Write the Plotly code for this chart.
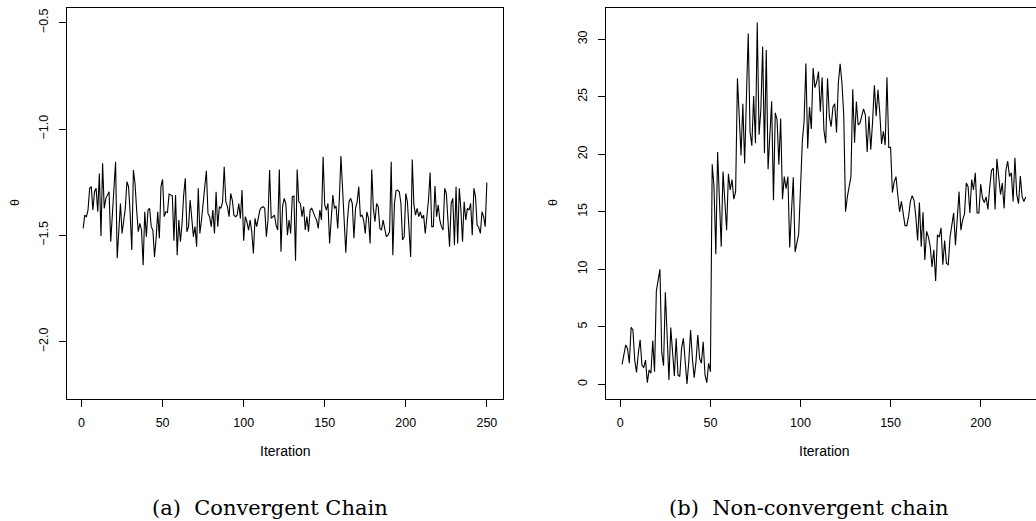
import plotly.graph_objects as go

W, H = 1036, 521

# ---- data ----
theta_a = [
    -1.467, -1.405, -1.412, -1.381, -1.279, -1.271, -1.381, -1.295, -1.279, -1.389,
    -1.209, -1.503, -1.161, -1.373, -1.326, -1.310, -1.295, -1.530, -1.412, -1.295,
    -1.154, -1.608, -1.459, -1.350, -1.491, -1.428, -1.373, -1.248, -1.271, -1.397,
    -1.569, -1.193, -1.256, -1.381, -1.483, -1.444, -1.475, -1.640, -1.389, -1.506,
    -1.381, -1.373, -1.459, -1.475, -1.601, -1.514, -1.389, -1.514, -1.271, -1.237,
    -1.412, -1.389, -1.392, -1.306, -1.310, -1.314, -1.525, -1.310, -1.593, -1.428,
    -1.530, -1.444, -1.310, -1.232, -1.483, -1.459, -1.334, -1.420, -1.506, -1.459,
    -1.553, -1.279, -1.491, -1.428, -1.357, -1.279, -1.196, -1.397, -1.412, -1.459,
    -1.381, -1.491, -1.295, -1.459, -1.365, -1.373, -1.342, -1.177, -1.342, -1.365,
    -1.412, -1.303, -1.334, -1.405, -1.412, -1.405, -1.350, -1.420, -1.287, -1.525,
    -1.412, -1.436, -1.475, -1.428, -1.483, -1.585, -1.420, -1.459, -1.412, -1.381,
    -1.369, -1.365, -1.373, -1.506, -1.428, -1.193, -1.420, -1.412, -1.405, -1.452,
    -1.475, -1.190, -1.577, -1.365, -1.326, -1.350, -1.499, -1.428, -1.491, -1.318,
    -1.315, -1.619, -1.190, -1.342, -1.350, -1.412, -1.365, -1.475, -1.412, -1.483,
    -1.381, -1.373, -1.397, -1.412, -1.428, -1.467, -1.381, -1.428, -1.130, -1.357,
    -1.381, -1.350, -1.538, -1.420, -1.310, -1.373, -1.362, -1.467, -1.334, -1.127,
    -1.303, -1.397, -1.582, -1.428, -1.342, -1.326, -1.350, -1.514, -1.373, -1.342,
    -1.271, -1.412, -1.405, -1.428, -1.491, -1.389, -1.420, -1.538, -1.190, -1.373,
    -1.436, -1.350, -1.365, -1.467, -1.475, -1.428, -1.475, -1.506, -1.499, -1.483,
    -1.154, -1.593, -1.350, -1.290, -1.287, -1.295, -1.350, -1.522, -1.506, -1.303,
    -1.342, -1.475, -1.601, -1.143, -1.357, -1.405, -1.373, -1.412, -1.389, -1.420,
    -1.405, -1.491, -1.420, -1.334, -1.205, -1.459, -1.459, -1.268, -1.412, -1.357,
    -1.428, -1.459, -1.475, -1.279, -1.303, -1.428, -1.553, -1.350, -1.326, -1.546,
    -1.271, -1.538, -1.279, -1.381, -1.530, -1.342, -1.428, -1.373, -1.381, -1.350,
    -1.499, -1.279, -1.318, -1.452, -1.463, -1.491, -1.389, -1.412, -1.459, -1.252,
]

theta_b = [
    1.74, 2.6, 3.42, 3.1, 1.83, 4.96, 4.72, 2.1, 1.04, 2.7,
    3.86, 1.68, 1.45, 2.1, 0.14, 1.25, 0.96, 3.8, 1.1, 8.1,
    9.0, 10.0, 2.75, 1.62, 8.0, 3.3, 0.38, 4.93, 3.0, 0.72,
    4.0, 0.81, 0.67, 3.13, 4.0, 1.68, 0.03, 1.97, 4.72, 2.26,
    0.58, 1.97, 4.29, 2.26, 1.83, 3.7, 0.81, 0.14, 1.83, 1.1,
    19.13, 17.2, 11.3, 20.2, 16.75, 11.97, 18.5, 16.0, 13.4, 18.3,
    16.9, 17.8, 16.1, 16.75, 26.6, 23.3, 19.9, 24.4, 19.2, 25.0,
    30.5, 21.97, 20.75, 25.07, 20.96, 31.45, 21.7, 23.85, 29.36, 20.1,
    29.07, 18.7, 21.2, 24.6, 16.0, 23.6, 23.0, 19.1, 23.1, 16.1,
    18.06, 17.0, 18.06, 11.9, 15.0, 18.0, 11.5, 12.26, 13.1, 17.0,
    21.1, 22.9, 27.9, 20.5, 24.1, 22.2, 27.5, 25.8, 26.3, 27.2,
    23.7, 26.7, 22.1, 20.96, 26.6, 23.3, 22.4, 24.1, 24.4, 21.9,
    26.2, 27.86, 26.2, 23.4, 15.0, 16.3, 17.2, 18.06, 25.65, 21.0,
    24.58, 22.55, 22.7, 23.3, 23.94, 23.4, 20.2, 23.3, 20.4, 22.8,
    26.0, 23.3, 25.6, 23.6, 20.9, 22.0, 20.8, 26.7, 20.6, 20.6,
    16.67, 17.6, 18.06, 16.46, 15.0, 15.9, 14.6, 13.8, 13.8, 14.6,
    15.9, 16.4, 16.0, 14.6, 12.5, 15.8, 11.97, 14.96, 10.8, 13.3,
    12.8, 11.97, 10.2, 11.7, 8.99, 13.0, 12.8, 13.6, 10.4, 12.5,
    10.5, 10.4, 12.8, 13.8, 14.9, 12.1, 14.4, 16.75, 13.4, 14.3,
    14.8, 17.5, 17.2, 14.9, 17.8, 16.9, 18.4, 14.9, 14.9, 17.4,
    16.2, 15.8, 16.3, 15.2, 17.1, 18.6, 18.8, 15.2, 19.6, 17.8,
    16.5, 17.5, 15.3, 18.6, 19.4, 18.06, 18.4, 15.9, 19.7, 16.5,
    15.7, 18.1, 16.3, 15.9, 16.3,
]

iter_a = list(range(1, len(theta_a) + 1))
iter_b = list(range(1, len(theta_b) + 1))

xticks_a = [0, 50, 100, 150, 200, 250]
xticks_b = [0, 50, 100, 150, 200]
yticks_a = [-2.0, -1.5, -1.0, -0.5]
ytext_a = ["\u22122.0", "\u22121.5", "\u22121.0", "\u22120.5"]
yticks_b = [0, 5, 10, 15, 20, 25, 30]
ytext_b = ["0", "5", "10", "15", "20", "25", "30"]

x_title = "Iteration"
y_title = "\u03b8"
caption_a = "(a)  Convergent Chain"
caption_b = "(b)  Non-convergent chain"

SANS = "Liberation Sans, Arial, Helvetica, sans-serif"
SERIF = "DejaVu Serif, serif"

fig = go.Figure()
fig.add_trace(go.Scatter(x=iter_a, y=theta_a, mode="lines",
                         line=dict(color="black", width=1.1),
                         xaxis="x", yaxis="y", hoverinfo="skip"))
fig.add_trace(go.Scatter(x=iter_b, y=theta_b, mode="lines",
                         line=dict(color="black", width=1.1),
                         xaxis="x2", yaxis="y2", hoverinfo="skip"))

common = dict(showgrid=False, zeroline=False, showline=True, linecolor="black",
              linewidth=1, ticks="outside", ticklen=7, tickwidth=1,
              tickcolor="black",
              tickfont=dict(family=SANS, size=12.5, color="black"))

ydom = [1 - 398.5 / H, 1 - 8 / H]

fig.update_layout(
    width=W, height=H, margin=dict(l=0, r=0, t=0, b=0, pad=0),
    paper_bgcolor="white", plot_bgcolor="white", showlegend=False,
    xaxis=dict(domain=[67 / W, 503 / W], range=[-8.96, 259.96],
               tickmode="array", tickvals=xticks_a, ticktext=[str(v) for v in xticks_a],
               anchor="y", mirror=True, ticklabelstandoff=5, **common),
    yaxis=dict(domain=ydom, range=[-2.267, -0.431],
               tickmode="array", tickvals=yticks_a, ticktext=ytext_a, tickangle=-90,
               anchor="x", mirror=True, ticklabelstandoff=6, **common),
    xaxis2=dict(domain=[606 / W, 1.0], range=[-7.94, 230.7],
                tickmode="array", tickvals=xticks_b, ticktext=[str(v) for v in xticks_b],
                anchor="y2", mirror=True, ticklabelstandoff=5, **common),
    yaxis2=dict(domain=ydom, range=[-1.235, 32.72],
                tickmode="array", tickvals=yticks_b, ticktext=ytext_b, tickangle=-90,
                anchor="x2", mirror=False, ticklabelstandoff=6, **common),
)

def ann(text, x, y, size, family, angle=0):
    fig.add_annotation(text=text, x=x / W, y=1 - y / H, xref="paper", yref="paper",
                       showarrow=False, xanchor="center", yanchor="middle",
                       textangle=angle, font=dict(family=family, size=size, color="black"))

ann(x_title, 285, 451, 14, SANS)
ann(x_title, 824, 451, 14, SANS)
ann(y_title, 15, 203, 12.5, SANS, -90)
ann(y_title, 553, 203, 12.5, SANS, -90)
ann(caption_a, 270, 508, 21, SERIF)
ann(caption_b, 809, 508, 21, SERIF)

fig.write_html(
    "out.html",
    config={"displayModeBar": False},
    post_script="document.body.style.margin='0';document.body.style.overflow='hidden';",
)
